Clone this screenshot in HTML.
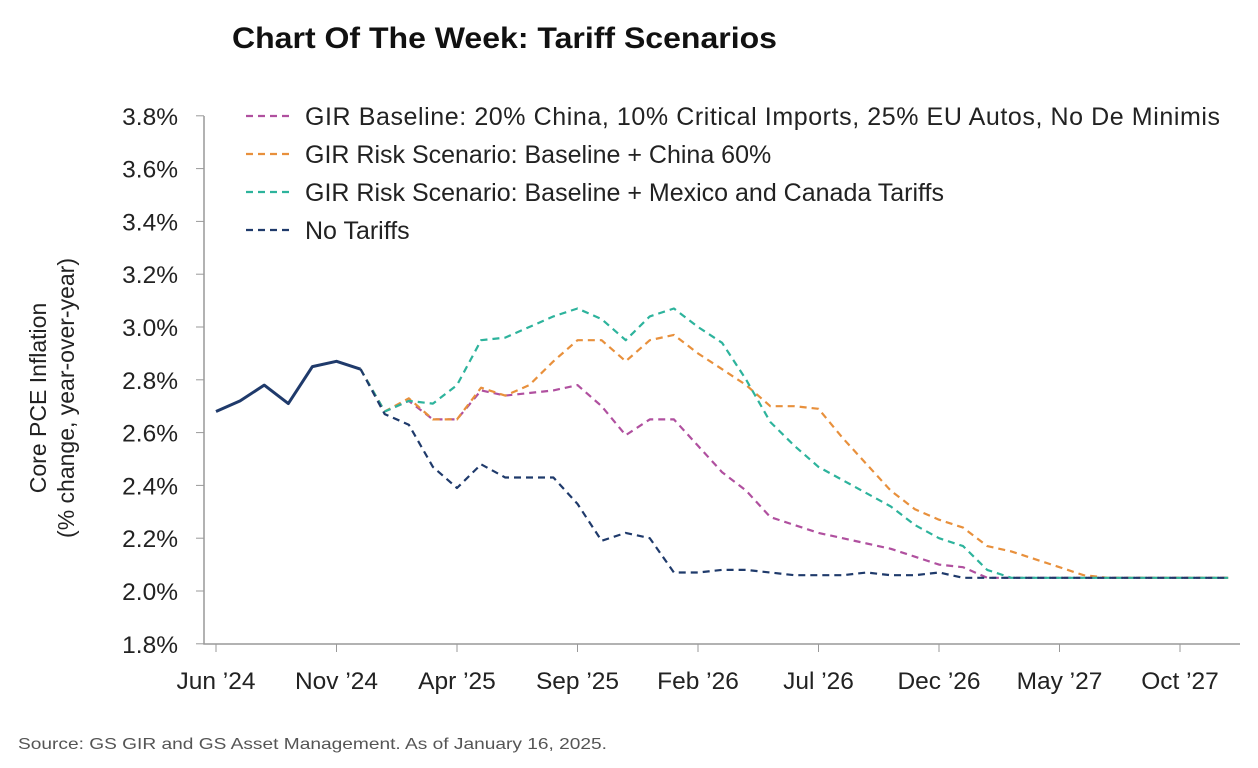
<!DOCTYPE html>
<html><head><meta charset="utf-8"><style>
body{margin:0;background:#fff;width:1258px;height:763px;overflow:hidden;font-family:"Liberation Sans",sans-serif}
</style></head><body>
<svg width="1258" height="763" xmlns="http://www.w3.org/2000/svg">
<text x="232" y="48" font-size="30" font-weight="bold" fill="#111" textLength="545" lengthAdjust="spacingAndGlyphs">Chart Of The Week: Tariff Scenarios</text>
<g id="yt"></g>
<g id="xt"></g>
<g transform="translate(46,398) rotate(-90)" font-size="23" fill="#222" text-anchor="middle">
<text x="0" y="0">Core PCE Inflation</text><text x="0" y="28">(% change, year-over-year)</text></g>
<g id="series"></g>
<g id="legend"></g>
<text x="18" y="749" font-size="16" fill="#555" textLength="589" lengthAdjust="spacingAndGlyphs">Source: GS GIR and GS Asset Management. As of January 16, 2025.</text>
</svg>
<script>
const yTicks=[1.8,2.0,2.2,2.4,2.6,2.8,3.0,3.2,3.4,3.6,3.8];
const xLabels=["Jun ’24","Nov ’24","Apr ’25","Sep ’25","Feb ’26","Jul ’26","Dec ’26","May ’27","Oct ’27"];
const history=[2.68,2.72,2.78,2.71,2.85,2.87,2.84];
const noTariffs=[2.84,2.67,2.63,2.47,2.39,2.48,2.43,2.43,2.43,2.33,2.19,2.22,2.20,2.07,2.07,2.08,2.08,2.07,2.06,2.06,2.06,2.07,2.06,2.06,2.07,2.05,2.05,2.05,2.05,2.05,2.05,2.05,2.05,2.05,2.05,2.05,2.05];
const baseline=[2.84,2.68,2.72,2.65,2.65,2.76,2.74,2.75,2.76,2.78,2.70,2.59,2.65,2.65,2.55,2.45,2.38,2.28,2.25,2.22,2.20,2.18,2.16,2.13,2.10,2.09,2.05,2.05,2.05,2.05,2.05,2.05,2.05,2.05,2.05,2.05,2.05];
const china60=[2.84,2.68,2.73,2.65,2.65,2.77,2.74,2.78,2.87,2.95,2.95,2.87,2.95,2.97,2.90,2.84,2.78,2.70,2.70,2.69,2.58,2.48,2.38,2.31,2.27,2.24,2.17,2.15,2.12,2.09,2.06,2.05,2.05,2.05,2.05,2.05,2.05];
const mexCan=[2.84,2.68,2.72,2.71,2.78,2.95,2.96,3.00,3.04,3.07,3.03,2.95,3.04,3.07,3.00,2.94,2.80,2.64,2.55,2.47,2.42,2.37,2.32,2.25,2.20,2.17,2.08,2.05,2.05,2.05,2.05,2.05,2.05,2.05,2.05,2.05,2.05];
const legendLabels=["GIR Baseline: 20% China, 10% Critical Imports, 25% EU Autos, No De Minimis","GIR Risk Scenario: Baseline + China 60%","GIR Risk Scenario: Baseline + Mexico and Canada Tariffs","No Tariffs"];
const NS="http://www.w3.org/2000/svg";
const X=m=>216+m*24.1, Y=v=>591-(v-2.0)*264;
function mk(t,a,p){const e=document.createElementNS(NS,t);for(const k in a)e.setAttribute(k,a[k]);p.appendChild(e);return e;}
const yt=document.getElementById('yt'),xt=document.getElementById('xt');
const ax=mk('path',{d:'M204,116V644H1240',stroke:'#999',fill:'none','stroke-width':1.5},yt);

yTicks.forEach(v=>{const t=mk('text',{x:178,y:Y(v)+9,'font-size':24.5,'text-anchor':'end',fill:'#222'},yt);t.textContent=v.toFixed(1)+'%';

const l=mk('line',{x1:196,x2:204,y1:Y(v),y2:Y(v),stroke:'#999'},yt);});
xLabels.forEach((s,i)=>{const x=X(i*5);const t=mk('text',{x:x,y:689,'font-size':24.5,'text-anchor':'middle',fill:'#222'},xt);t.textContent=s;

const l=mk('line',{x1:x,x2:x,y1:644,y2:652,stroke:'#999'},xt);});
const sg=document.getElementById('series');
function line(arr,off,col,dash,name){const d=arr.map((v,i)=>(i?'L':'M')+X(i+off).toFixed(1)+','+Y(v).toFixed(1)).join('');
const p=mk('path',{d:d,stroke:col,fill:'none','stroke-width':dash?2.2:3,'stroke-dasharray':dash?'7,5':'none','stroke-linejoin':'round'},sg);
}
const cols=['#b0509f','#e8903c','#2db39c','#1f3a6b'];
line(baseline,6,cols[0],true,'baseline-line');
line(china60,6,cols[1],true,'china-60-line');
line(mexCan,6,cols[2],true,'mexico-canada-line');
line(noTariffs,6,cols[3],true,'no-tariffs-line');
line(history,0,cols[3],false,'history-line');
const lg=document.getElementById('legend');
legendLabels.forEach((s,i)=>{const y=116+i*38;
const l=mk('line',{x1:246,x2:294,y1:y,y2:y,stroke:cols[i],'stroke-width':2.2,'stroke-dasharray':'7,5'},lg);

const t=mk('text',{x:305,y:y+9,'font-size':25,fill:'#222'},lg);t.textContent=s;
if(i===0)t.setAttribute('textLength','915');
});
</script>
</body></html>
